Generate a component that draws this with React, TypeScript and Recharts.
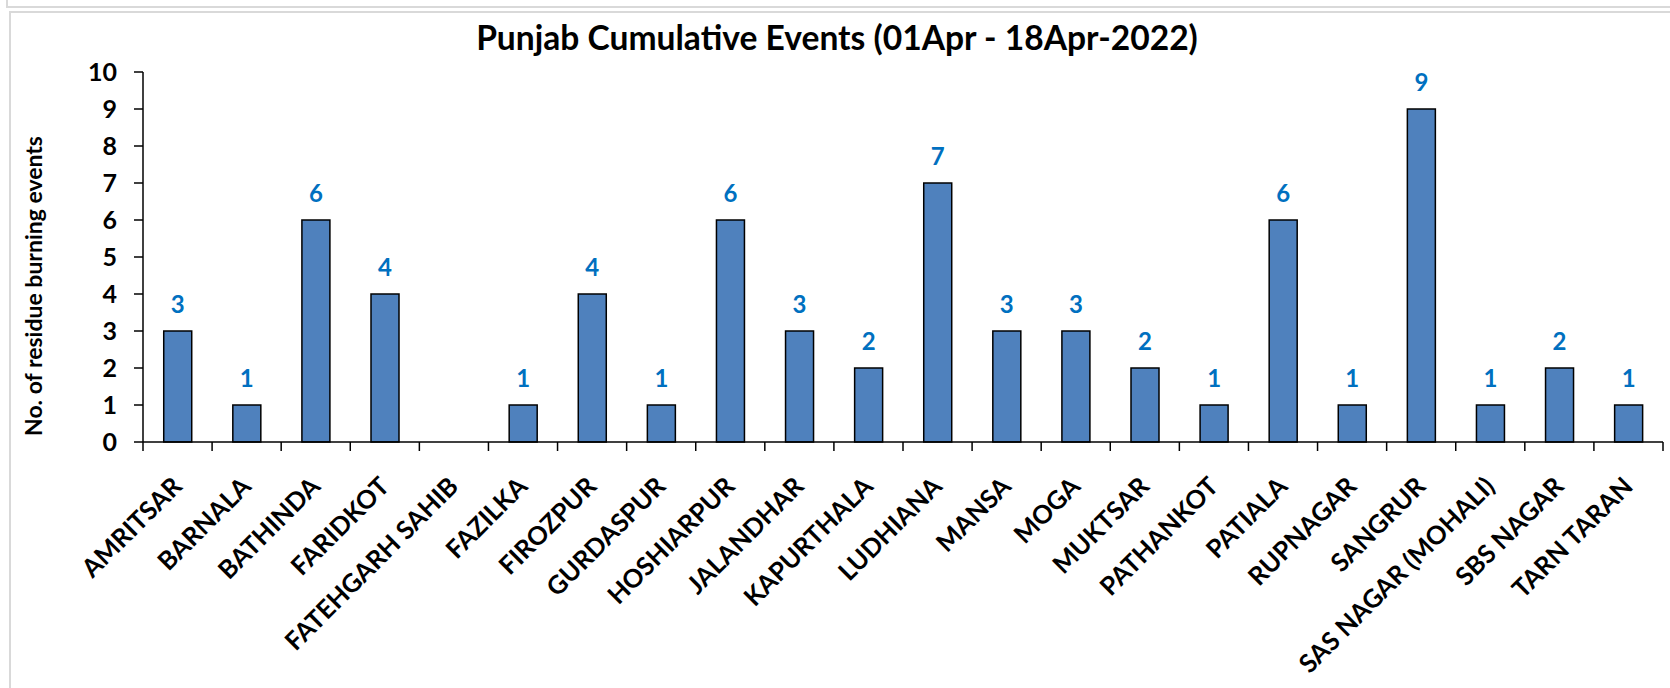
import React from 'react';
import { BarChart, Bar, XAxis, YAxis, LabelList } from 'recharts';

const districts = [
  'AMRITSAR', 'BARNALA', 'BATHINDA', 'FARIDKOT', 'FATEHGARH SAHIB', 'FAZILKA',
  'FIROZPUR', 'GURDASPUR', 'HOSHIARPUR', 'JALANDHAR', 'KAPURTHALA', 'LUDHIANA',
  'MANSA', 'MOGA', 'MUKTSAR', 'PATHANKOT', 'PATIALA', 'RUPNAGAR', 'SANGRUR',
  'SAS NAGAR (MOHALI)', 'SBS NAGAR', 'TARN TARAN'
];
const events = [3, 1, 6, 4, 0, 1, 4, 1, 6, 3, 2, 7, 3, 3, 2, 1, 6, 1, 9, 1, 2, 1];
const yTicks = [0, 1, 2, 3, 4, 5, 6, 7, 8, 9, 10];

const data = districts.map((name, i) => ({ name, value: events[i] }));

const FONT = 'Lato, "Open Sans", sans-serif';
const W = 1670;
const H = 688;
const PLOT_LEFT = 143;
const PLOT_RIGHT = 1663;
const BAND = (PLOT_RIGHT - PLOT_LEFT) / districts.length;

// ticks sit between categories, labels rotated like Excel
const DistrictTick = (props: any) => {
  const { x, y, payload, index } = props;
  const left = x - BAND / 2;
  const tx = x + 6;
  const ty = y + 46;
  return (
    <g>
      <line x1={left} y1={y} x2={left} y2={y + 9} stroke="#000" strokeWidth={1.5} />
      {index === districts.length - 1 && (
        <line x1={x + BAND / 2} y1={y} x2={x + BAND / 2} y2={y + 9} stroke="#000" strokeWidth={1.5} />
      )}
      <text
        x={tx}
        y={ty}
        textAnchor="end"
        transform={`rotate(-45, ${tx}, ${ty})`}
        fontFamily={FONT}
        fontWeight={700}
        fontSize={25.5}
        fill="#000"
      >
        {payload.value}
      </text>
    </g>
  );
};

const renderValue = (props: any) => {
  const { x, y, width, value } = props;
  if (!value) return null;
  return (
    <text
      x={x + width / 2}
      y={y - 18}
      textAnchor="middle"
      fontFamily={FONT}
      fontWeight={700}
      fontSize={24}
      fill="#0070C0"
    >
      {value}
    </text>
  );
};

export default function App() {
  return (
    <div style={{ position: 'absolute', left: 0, top: 0, width: W, height: H, overflow: 'hidden', background: '#fff' }}>
      <div style={{ position: 'absolute', left: 6, top: -20, width: 1700, height: 24, border: '2px solid #d9d9d9' }} />
      <div style={{ position: 'absolute', left: 9, top: 11, width: 1700, height: 720, border: '2px solid #d9d9d9' }} />
      <div style={{ position: 'absolute', left: 0, top: 0 }}>
        <BarChart
          width={W}
          height={H}
          data={data}
          margin={{ top: 72, right: W - PLOT_RIGHT, bottom: 6, left: 0 }}
          barCategoryGap="30%"
        >
          <XAxis
            dataKey="name"
            interval={0}
            height={240}
            tickSize={0}
            tickMargin={0}
            tickLine={false}
            axisLine={{ stroke: '#000', strokeWidth: 1.5 }}
            tick={<DistrictTick />}
          />
          <YAxis
            width={PLOT_LEFT}
            domain={[0, 10]}
            ticks={yTicks}
            interval={0}
            tickSize={9}
            tickMargin={17}
            axisLine={{ stroke: '#000', strokeWidth: 1.5 }}
            tickLine={{ stroke: '#000', strokeWidth: 1.5 }}
            tick={{ fill: '#000', fontSize: 25, fontWeight: 700, fontFamily: FONT }}
          />
          <Bar dataKey="value" fill="#4F81BD" stroke="#000" strokeWidth={1.5} isAnimationActive={false}>
            <LabelList dataKey="value" content={renderValue} />
          </Bar>
        </BarChart>
      </div>
      <svg width={W} height={H} style={{ position: 'absolute', left: 0, top: 0, pointerEvents: 'none' }}>
        <text x={837} y={50} textAnchor="middle" fontFamily={FONT} fontWeight={700} fontSize={33.6} fill="#000">
          Punjab Cumulative Events (01Apr - 18Apr-2022)
        </text>
        <text
          x={42}
          y={286}
          textAnchor="middle"
          transform="rotate(-90, 42, 286)"
          fontFamily={FONT}
          fontWeight={700}
          fontSize={23}
          fill="#000"
        >
          No. of residue burning events
        </text>
      </svg>
    </div>
  );
}
